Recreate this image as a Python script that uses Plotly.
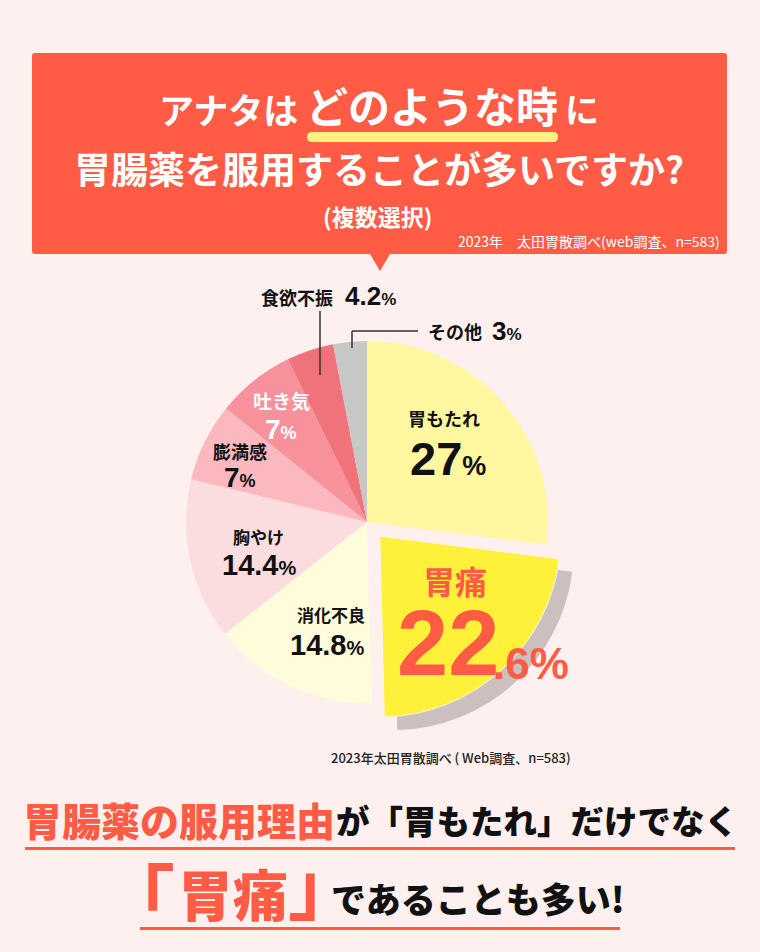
import plotly.graph_objects as go

W, H = 760, 952
JP = "Noto Sans CJK JP"
NUM = "Liberation Sans"
ORANGE = "#ff5b45"
BG = "#fff0f0"

# Data
categories = ["胃もたれ", "胃痛", "消化不良", "胸やけ", "膨満感", "吐き気", "食欲不振", "その他"]
values = [27, 22.6, 14.8, 14.4, 7, 7, 4.2, 3]
colors = ["#fff8a0", "#fff03a", "#fffcdc", "#fbdde0", "#fbb8be", "#f7919b", "#f0727b", "#c6c8c8"]
shadow_colors = ["rgba(0,0,0,0)", "#cbbfc0", "rgba(0,0,0,0)", "rgba(0,0,0,0)",
                 "rgba(0,0,0,0)", "rgba(0,0,0,0)", "rgba(0,0,0,0)", "rgba(0,0,0,0)"]
pull = [0, 0.105, 0, 0, 0, 0, 0, 0]
edge_widths = [0, 1, 0, 0, 0, 0, 0, 0]


def px(x):
    return x / W


def py(y):
    return 1 - y / H


def pie_domain(cx, cy, half=200):
    return dict(x=[px(cx - half), px(cx + half)], y=[py(cy + half), py(cy - half)])


def txt(text, x, y, size, color="#111111", anchor="center", family=JP, weight=700):
    return dict(text=text, x=px(x), y=py(y), xref="paper", yref="paper", showarrow=False,
                xanchor=anchor, yanchor="middle", align="center",
                font=dict(family=family, size=size, color=color, weight=weight))


def num_txt(num, x, y, big, small, color="#111111", anchor="center"):
    text = f"{num}<span style='font-size:{small}px'>%</span>"
    return txt(text, x, y, big, color, anchor, family=NUM)


def rect(x0, y0, x1, y1, color):
    return dict(type="rect", xref="paper", yref="paper", x0=px(x0), x1=px(x1), y0=py(y0), y1=py(y1),
                fillcolor=color, line_width=0, layer="above")


def round_rect(x0, y0, x1, y1, r, color):
    d = (f"M {px(x0 + r)} {py(y0)} L {px(x1 - r)} {py(y0)} Q {px(x1)} {py(y0)} {px(x1)} {py(y0 + r)} "
         f"L {px(x1)} {py(y1 - r)} Q {px(x1)} {py(y1)} {px(x1 - r)} {py(y1)} "
         f"L {px(x0 + r)} {py(y1)} Q {px(x0)} {py(y1)} {px(x0)} {py(y1 - r)} "
         f"L {px(x0)} {py(y0 + r)} Q {px(x0)} {py(y0)} {px(x0 + r)} {py(y0)} Z")
    return dict(type="path", path=d, xref="paper", yref="paper", fillcolor=color, line_width=0, layer="above")


def line(x0, y0, x1, y1, color="#333333"):
    return dict(type="line", xref="paper", yref="paper", x0=px(x0), x1=px(x1), y0=py(y0), y1=py(y1),
                line=dict(color=color, width=1.5), layer="above")


def poly(points, color):
    d = "M " + " L ".join(f"{px(x)} {py(y)}" for x, y in points) + " Z"
    return dict(type="path", path=d, xref="paper", yref="paper", fillcolor=color, line_width=0, layer="above")


fig = go.Figure()

# grey shadow of the pulled slice
fig.add_trace(go.Pie(labels=categories, values=values, sort=False, direction="clockwise", rotation=0,
                     pull=pull, marker=dict(colors=shadow_colors, line=dict(width=0)),
                     textinfo="none", hoverinfo="skip", showlegend=False, domain=pie_domain(380, 535)))
fig.add_trace(go.Pie(labels=categories, values=values, sort=False, direction="clockwise", rotation=0,
                     pull=pull, marker=dict(colors=colors, line=dict(width=edge_widths, color="#fff6f0")),
                     textinfo="none", showlegend=False, domain=pie_domain(367, 522)))

shapes = [
    round_rect(32, 53, 727, 254, 3, ORANGE),
    poly([(370, 254), (390, 254), (380, 271)], ORANGE),
    round_rect(307, 132, 558, 142, 5, "#fff082"),
    line(320, 311, 320, 375),
    line(352, 348, 352, 331),
    line(352, 331, 418, 331),
    rect(25, 847, 735, 850, ORANGE),
    rect(140, 927, 620, 930, ORANGE),
]

annotations = [
    # banner
    txt("アナタは", 300, 108, 35, "white", "right"),
    txt("どのような時", 432, 104, 42, "white"),
    txt("に", 563, 108, 34, "white", "left"),
    txt("胃腸薬を服用することが多いですか?", 379, 168, 37, "white"),
    txt("(複数選択)", 377, 216, 23, "white"),
    txt("2023年　太田胃散調べ(web調査、n=583)", 722, 241, 14, "white", "right", weight=400),
    # pie labels
    txt("胃もたれ", 444, 418, 18),
    num_txt("27", 448, 458, 47, 27),
    txt("胃痛", 455, 580, 32, ORANGE),
    txt("22", 448, 643, 92, ORANGE, family=NUM),
    txt(".6%", 531, 663, 44, ORANGE, family=NUM),
    txt("消化不良", 331, 614, 17),
    num_txt("14.8", 327, 645, 29, 20),
    txt("胸やけ", 258, 536, 17),
    num_txt("14.4", 259, 565, 29, 20),
    txt("膨満感", 240, 451, 18),
    num_txt("7", 240, 477, 28, 18),
    txt("吐き気", 281, 400, 19, "white"),
    num_txt("7", 281, 430, 28, 18, "white"),
    txt("食欲不振", 297, 297, 18),
    num_txt("4.2", 343, 296, 26, 17, anchor="left"),
    txt("その他", 455, 331, 18),
    num_txt("3", 490, 331, 26, 17, anchor="left"),
    # footer
    txt("2023年太田胃散調べ ( Web調査、n=583)", 451, 757, 13, "#222222", weight=500),
    txt("胃腸薬の服用理由", 179, 819, 39, ORANGE, weight=900),
    txt("が「胃もたれ」だけでなく", 537, 819, 33.5, "#111111", weight=900),
    txt("「", 138, 893, 74, ORANGE, weight=700),
    txt("胃痛", 233, 892, 55, ORANGE, weight=900),
    txt("」", 325, 881, 74, ORANGE, weight=700),
    txt("であることも多い!", 478, 897, 35, "#111111", weight=900),
]

fig.update_layout(width=W, height=H, margin=dict(l=0, r=0, t=0, b=0),
                  paper_bgcolor=BG, plot_bgcolor=BG,
                  shapes=shapes, annotations=annotations)
fig.write_html("out.html", config={"displayModeBar": False},
               post_script=f"document.body.style.margin='0';document.body.style.background='{BG}';")
